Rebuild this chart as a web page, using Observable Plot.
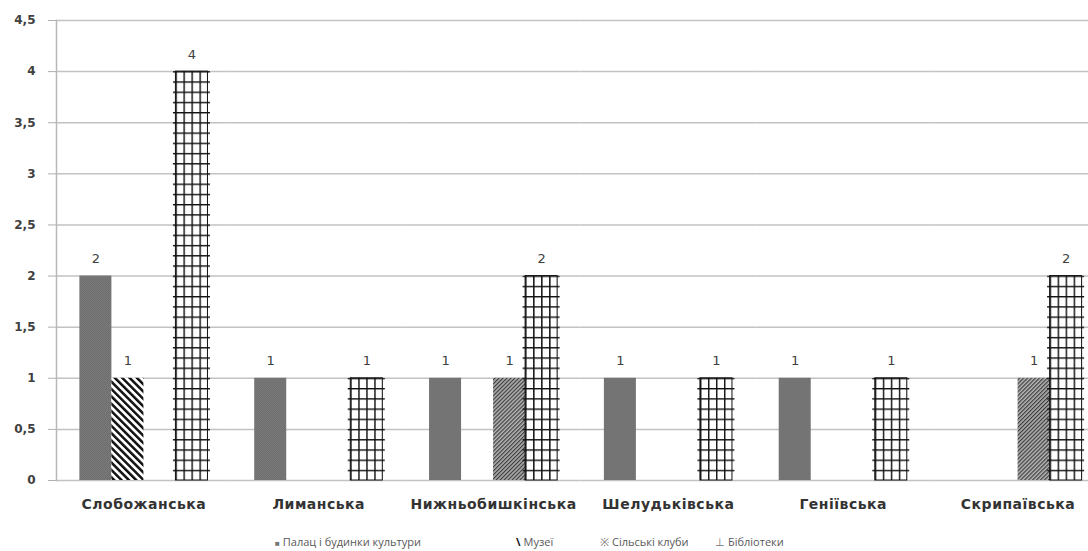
<!DOCTYPE html>
<html>
<head>
<meta charset="utf-8">
<script src="https://cdn.jsdelivr.net/npm/d3@7"></script>
<script src="https://cdn.jsdelivr.net/npm/@observablehq/plot@0.6"></script>
<style>
html, body { margin: 0; padding: 0; background: #fff; overflow: hidden; width: 1088px; height: 551px; }
#wrap { position: relative; width: 1105px; }
#cut { position: absolute; left: 0; top: 0; height: 5px; width: 1088px; overflow: hidden; }
#cut span { display: block; font-family: "Liberation Serif"; font-size: 21px; line-height: 20px; margin-top: -22px; white-space: nowrap; color: #000; padding-left: 58px; word-spacing: 12px; }
#chart svg { display: block; }
#legend { position: relative; height: 31px; font-family: "Open Sans"; font-size: 11px; color: #595959; }
#legend > span { position: absolute; top: 14px; white-space: nowrap; line-height: 15px; }
#legend b { font-weight: normal; margin-right: 3px; }
.chart-fx text { letter-spacing: 0.5px; }
</style>
</head>
<body>
<div id="wrap">
  <div id="cut"><span>у будинках культури, музеї, сільські клуби, бібліотеки у громадах</span></div>
  <div id="chart"></div>
  <div id="legend"></div>
</div>
<script>
// ---- data ----
const categories = ["Слобожанська", "Лиманська", "Нижньобишкінська", "Шелудьківська", "Геніївська", "Скрипаївська"];
const seriesNames = ["Палац і будинки культури", "Музеї", "Сільські клуби", "Бібліотеки"];
const palaces   = [2, 1, 1, 1, 1, 0];
const museums   = [1, 0, 0, 0, 0, 0];
const clubs     = [0, 0, 1, 0, 0, 1];
const libraries = [4, 1, 2, 1, 1, 2];
const yTicks = [0, 0.5, 1, 1.5, 2, 2.5, 3, 3.5, 4, 4.5];
const legendSymbols = ["■", "\\", "※", "⊥"];

// ---- build table ----
const seriesValues = [palaces, museums, clubs, libraries];
const data = [];
categories.forEach((c, i) => {
  seriesValues.forEach((arr, j) => {
    if (arr[i] > 0) data.push({category: c, series: seriesNames[j], value: arr[i]});
  });
});
const libData = data.filter(d => d.series === seriesNames[3]);
const patternIds = ["pPalace", "pMuseum", "pClubs", "pLibBase"];
const fmt = d => String(d).replace(".", ",");

const plot = Plot.plot({
  width: 1105,
  height: 520,
  marginTop: 20,
  marginBottom: 40,
  marginLeft: 56,
  marginRight: 0,
  style: {fontFamily: "DejaVu Sans", background: "transparent", overflow: "visible"},
  fx: {domain: categories, padding: 0, round: false, label: null},
  x: {domain: seriesNames, paddingInner: 0, paddingOuter: 0.73, round: false, axis: null},
  y: {domain: [0, 4.5], label: null},
  color: {domain: seriesNames, range: patternIds.map(id => `url(#${id})`)},
  marks: [
    Plot.gridY(yTicks, {stroke: "#c2c2c2", strokeOpacity: 1, strokeWidth: 1.5}),
    Plot.frame({anchor: "left", facetAnchor: "left", stroke: "#b8b8b8", strokeWidth: 1.5}),
    Plot.barY(data, {fx: "category", x: "series", y: "value", fill: "series"}),
    Plot.barY(libData, {fx: "category", x: "series", y: "value", fill: "url(#pLibV)", stroke: "#111", strokeWidth: 1}),
    Plot.barY(libData, {fx: "category", x: "series", y: "value", fill: "url(#pLibH)", insetLeft: -2.5, insetRight: -2.5}),
    Plot.text(data, {fx: "category", x: "series", y: "value", text: d => String(d.value), dy: -17, fontSize: 13, fill: "#404040"}),
    Plot.axisY(yTicks, {tickSize: 8, tickPadding: 13, tickFormat: fmt, fontSize: 12, fontWeight: "bold", fill: "#404040", stroke: "#b0b0b0", label: null}),
    Plot.axisFx({anchor: "bottom", tickSize: 0, tickPadding: 19, fontSize: 14, fontWeight: "bold", fill: "#333", label: null, className: "chart-fx"})
  ]
});

// ---- patterns (defs) ----
const ys = plot.scale("y");
const y0 = ys.apply(0);
const step = ys.apply(0) - ys.apply(0.1);
const defs = d3.select(plot).insert("defs", ":first-child");

// Palace: dark gray, subtle checker texture
let p = defs.append("pattern").attr("id", "pPalace").attr("patternUnits", "userSpaceOnUse").attr("width", 2).attr("height", 2);
p.append("rect").attr("width", 2).attr("height", 2).attr("fill", "#7a7a7a");
p.append("rect").attr("width", 1).attr("height", 1).attr("fill", "#6e6e6e");
p.append("rect").attr("x", 1).attr("y", 1).attr("width", 1).attr("height", 1).attr("fill", "#6e6e6e");

// Museum: thick "\" stripes
p = defs.append("pattern").attr("id", "pMuseum").attr("patternUnits", "userSpaceOnUse").attr("width", 5.2).attr("height", 5.2).attr("patternTransform", "rotate(-45)");
p.append("rect").attr("width", 5.2).attr("height", 5.2).attr("fill", "#fff");
p.append("rect").attr("width", 2.5).attr("height", 5.2).attr("fill", "#111");

// Clubs: dense "/" hatch
p = defs.append("pattern").attr("id", "pClubs").attr("patternUnits", "userSpaceOnUse").attr("width", 2.8).attr("height", 2.8).attr("patternTransform", "rotate(45)");
p.append("rect").attr("width", 2.8).attr("height", 2.8).attr("fill", "#b4b4b4");
p.append("rect").attr("width", 1.2).attr("height", 2.8).attr("fill", "#3c3c3c");

// Library base (white)
p = defs.append("pattern").attr("id", "pLibBase").attr("patternUnits", "userSpaceOnUse").attr("width", 4).attr("height", 4);
p.append("rect").attr("width", 4).attr("height", 4).attr("fill", "#fff");

// Library vertical lines (relative to bar)
p = defs.append("pattern").attr("id", "pLibV").attr("patternUnits", "objectBoundingBox").attr("patternContentUnits", "objectBoundingBox").attr("width", 0.25).attr("height", 1);
p.append("rect").attr("width", 0.25).attr("height", 1).attr("fill", "#fff");
p.append("rect").attr("width", 0.045).attr("height", 1).attr("fill", "#111");

// Library horizontal lines (aligned with the y scale, every 0.1)
p = defs.append("pattern").attr("id", "pLibH").attr("patternUnits", "userSpaceOnUse").attr("x", 0).attr("y", y0).attr("width", 10).attr("height", step);
p.append("rect").attr("width", 10).attr("height", 1.4).attr("fill", "#111");

document.getElementById("chart").append(plot);

// ---- legend ----
const legendLeft = [275, 516, 600, 715];
const legend = d3.select("#legend");
seriesNames.forEach((s, i) => {
  const item = legend.append("span").style("left", legendLeft[i] + "px");
  item.append("b").text(legendSymbols[i])
    .style("color", i === 1 ? "#111" : "#777")
    .style("font-weight", i === 1 ? "bold" : "normal")
    .style("font-size", i === 0 ? "8px" : "11px");
  item.append("span").text(s);
});
</script>
</body>
</html>
